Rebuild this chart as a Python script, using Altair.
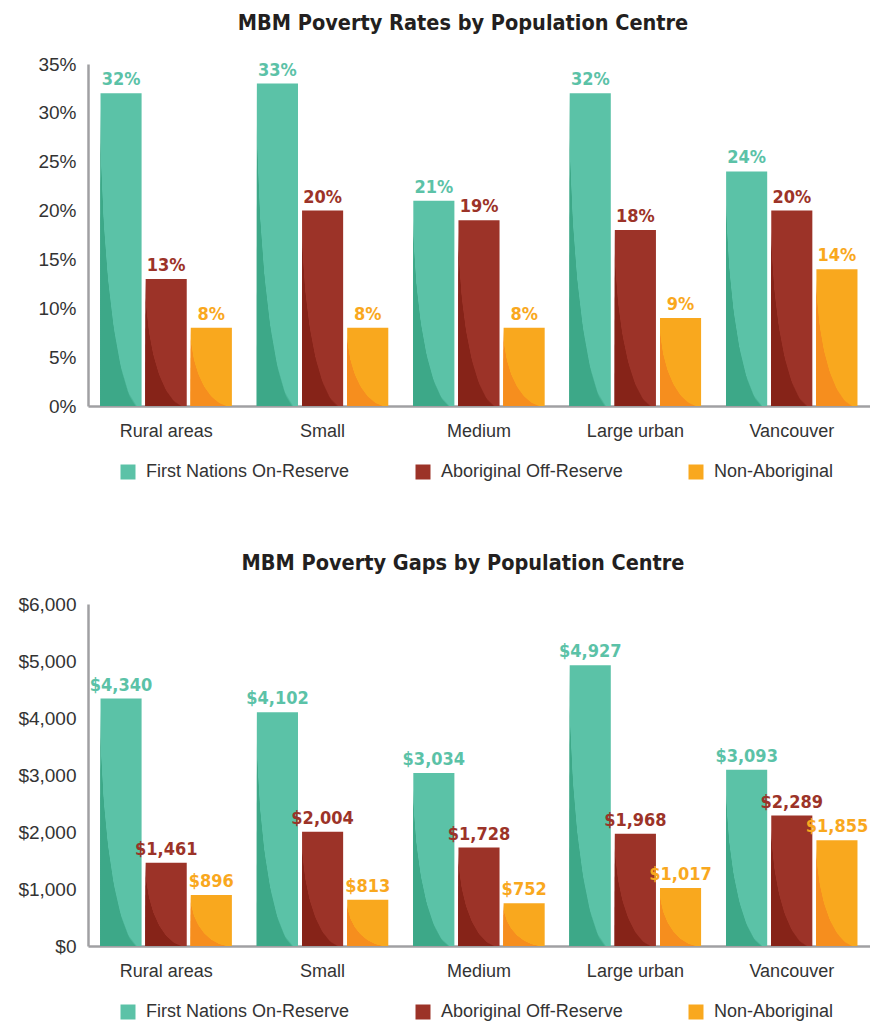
import math
import altair as alt
import pandas as pd

categories = ["Rural areas", "Small", "Medium", "Large urban", "Vancouver"]
series = ["First Nations On-Reserve", "Aboriginal Off-Reserve", "Non-Aboriginal"]

rates_fn = [32, 33, 21, 32, 24]
rates_ab = [13, 20, 19, 18, 20]
rates_non = [8, 8, 8, 9, 14]

gaps_fn = [4340, 4102, 3034, 4927, 3093]
gaps_ab = [1461, 2004, 1728, 1968, 2289]
gaps_non = [896, 813, 752, 1017, 1855]

light = ["#5BC2A7", "#9C3328", "#F9A81E"]
dark = ["#3DA888", "#862318", "#F68E1E"]
dark_clear = ["rgba(61,168,136,0)", "rgba(134,35,24,0)", "rgba(246,142,30,0)"]

LABEL_FONT = "Liberation Sans"
VALUE_FONT = "DejaVu Sans Condensed, Liberation Sans Narrow, sans-serif"
W = 782
H = 342
# tangent angles of the decorative curved shading inside each bar
shade_angles = [6, 18, 30, 42, 54, 66, 78]


def long_df(a, b, c, kind):
    rows = []
    for i, cat in enumerate(categories):
        for s, arr in zip(series, (a, b, c)):
            v = arr[i]
            if kind == "pct":
                rows.append({"cat": cat, "series": s, "value": v / 100, "label": f"{v}%"})
            else:
                rows.append({"cat": cat, "series": s, "value": v, "label": f"${v:,}"})
    return pd.DataFrame(rows)


def shade_gradient(dc, clear, theta_deg):
    th = math.radians(theta_deg)
    px, py = 1 - math.cos(th), math.sin(th)
    nx, ny = -math.cos(th), math.sin(th)
    return alt.LinearGradient(
        gradient="linear",
        stops=[alt.GradientStop(color=clear, offset=0),
               alt.GradientStop(color=dc, offset=0.012),
               alt.GradientStop(color=dc, offset=1)],
        x1=px, y1=py, x2=px + nx, y2=py + ny)


def make(df, title, ymax, ticks, fmt):
    base = alt.Chart(df)
    x = alt.X("cat:N", sort=categories,
              scale=alt.Scale(paddingInner=0.16, paddingOuter=0.08),
              axis=alt.Axis(title=None, labelAngle=0, ticks=False, domainColor="#a0a0a3",
                            domainWidth=2.5, labelFontSize=18, labelFont=LABEL_FONT,
                            labelColor="#333333", labelPadding=16))
    xo = alt.XOffset("series:N", sort=series,
                     scale=alt.Scale(domain=series, paddingInner=0.09))
    y = alt.Y("value:Q", scale=alt.Scale(domain=[0, ymax], nice=False),
              axis=alt.Axis(title=None, values=ticks, format=fmt, ticks=False, grid=False,
                            domainColor="#a0a0a3", domainWidth=2.5, labelFontSize=19,
                            labelFont=LABEL_FONT, labelColor="#333333", labelPadding=12,
                            minExtent=80, maxExtent=80))
    legend = alt.Legend(title=None, orient="none", direction="horizontal",
                        legendX=31, legendY=H + 57, symbolType="square",
                        symbolSize=225, symbolStrokeWidth=0, labelFontSize=18,
                        labelFont=LABEL_FONT, labelColor="#333333", labelOffset=9,
                        columnPadding=64, labelLimit=400)
    color = alt.Color("series:N", sort=series,
                      scale=alt.Scale(domain=series, range=light), legend=legend)
    bars = base.mark_bar().encode(x=x, xOffset=xo, y=y, color=color)
    layers = [bars]
    for s, dc, clear in zip(series, dark, dark_clear):
        sub = base.transform_filter(alt.datum.series == s)
        for th in shade_angles:
            layers.append(sub.mark_bar(color=shade_gradient(dc, clear, th))
                          .encode(x=x, xOffset=xo, y=y))
    text = base.mark_text(dy=-8, baseline="alphabetic", font=VALUE_FONT,
                          fontWeight="bold", fontSize=18).encode(
        x=x, xOffset=xo, y=y, text="label:N", color=color)
    layers.append(text)
    return alt.layer(*layers).properties(
        width=W, height=H,
        title=alt.TitleParams(title, font=VALUE_FONT, fontSize=21.5, fontWeight="bold",
                              color="#231F20", anchor="middle", dx=-16, offset=21))


c1 = make(long_df(rates_fn, rates_ab, rates_non, "pct"),
          "MBM Poverty Rates by Population Centre", 0.35,
          [0, 0.05, 0.1, 0.15, 0.2, 0.25, 0.3, 0.35], ".0%")
c2 = make(long_df(gaps_fn, gaps_ab, gaps_non, "usd"),
          "MBM Poverty Gaps by Population Centre", 6000,
          [0, 1000, 2000, 3000, 4000, 5000, 6000], "$,.0f")

chart = alt.vconcat(c1, c2, spacing=71).resolve_scale(color="independent").properties(
    padding={"left": 0, "top": 4, "right": 0, "bottom": 0}
).configure_view(stroke=None)

chart.save("out.html", embed_options={"renderer": "svg", "actions": False})
